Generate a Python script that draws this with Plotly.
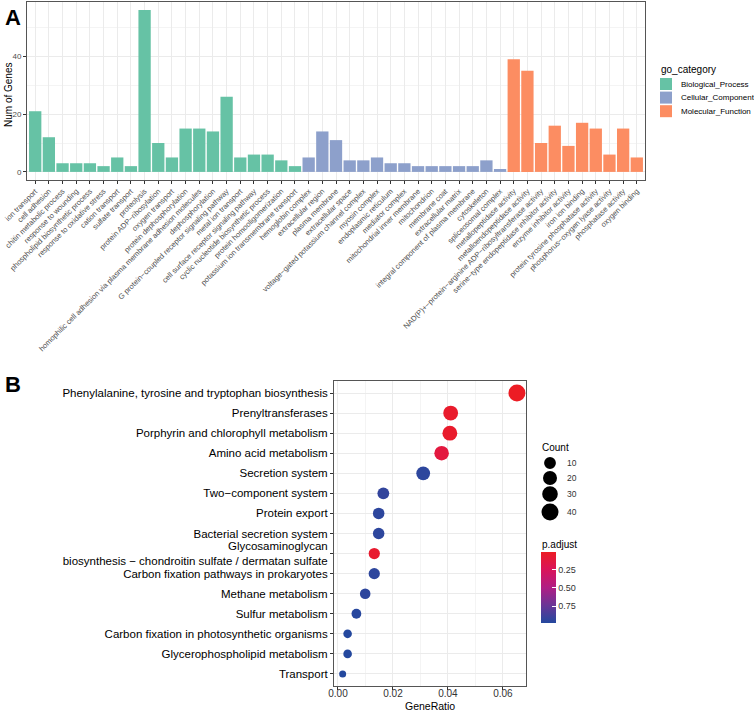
import math
import plotly.graph_objects as go

# ---------------- Panel A data (GO enrichment bar chart) ----------------
bp_terms = ["ion transport", "cell adhesion", "chitin metabolic process", "response to wounding",
            "phospholipid biosynthetic process", "response to oxidative stress", "cation transport",
            "sulfate transport", "proteolysis", "protein ADP−ribosylation", "oxygen transport",
            "protein dephosphorylation",
            "homophilic cell adhesion via plasma membrane adhesion molecules",
            "dephosphorylation", "G protein−coupled receptor signaling pathway", "metal ion transport",
            "cell surface receptor signaling pathway", "cyclic nucleotide biosynthetic process",
            "protein homooligomerization", "potassium ion transmembrane transport"]
bp_counts = [21, 12, 3, 3, 3, 2, 5, 2, 56, 10, 5, 15, 15, 14, 26, 5, 6, 6, 4, 2]

cc_terms = ["hemoglobin complex", "extracellular region", "plasma membrane", "extracellular space",
            "voltage−gated potassium channel complex", "myosin complex", "endoplasmic reticulum",
            "mediator complex", "mitochondrial inner membrane", "mitochondrion", "membrane coat",
            "extracellular matrix", "integral component of plasma membrane", "cytoskeleton",
            "spliceosomal complex"]
cc_counts = [5, 14, 11, 4, 4, 5, 3, 3, 2, 2, 2, 2, 2, 4, 1]

mf_terms = ["metallopeptidase activity", "metalloendopeptidase activity",
            "NAD(P)+−protein−arginine ADP−ribosyltransferase activity",
            "serine−type endopeptidase inhibitor activity", "enzyme inhibitor activity",
            "iron ion binding", "protein tyrosine phosphatase activity",
            "phosphorus−oxygen lyase activity", "phosphatase activity", "oxygen binding"]
mf_counts = [39, 35, 10, 16, 9, 17, 15, 6, 15, 5]

go_names = ["Biological_Process", "Cellular_Component", "Molecular_Function"]
go_colors = ["#66C2A5", "#8DA0CB", "#FC8D62"]
a_yticks = [0, 20, 40]

# ---------------- Panel B data (KEGG dot plot) ----------------
kegg_terms = ["Phenylalanine, tyrosine and tryptophan biosynthesis", "Prenyltransferases",
              "Porphyrin and chlorophyll metabolism", "Amino acid metabolism", "Secretion system",
              "Two−component system", "Protein export", "Bacterial secretion system",
              "Glycosaminoglycan<br>biosynthesis − chondroitin sulfate / dermatan sulfate",
              "Carbon fixation pathways in prokaryotes", "Methane metabolism", "Sulfur metabolism",
              "Carbon fixation in photosynthetic organisms", "Glycerophospholipid metabolism",
              "Transport"]
kegg_ratio = [0.0651, 0.0410, 0.0407, 0.0377, 0.0310, 0.0165, 0.0148, 0.0148, 0.0132, 0.0132,
              0.0099, 0.0067, 0.0035, 0.0035, 0.0017]
kegg_count = [40, 25, 25, 23, 19, 10, 9, 9, 8, 8, 6, 4, 2, 2, 1]
kegg_padj = [0.01, 0.045, 0.045, 0.13, 0.95, 0.93, 0.95, 0.95, 0.06, 0.95, 0.95, 0.97, 0.98, 0.98, 0.98]
count_legend = [10, 20, 30, 40]
b_xticks = [0.0, 0.02, 0.04, 0.06]
padj_ticks = [0.25, 0.50, 0.75]

W, H = 754, 711
FONT = "Liberation Sans, Arial, sans-serif"


def fx(p):
    return p / W


def fy(p):
    return 1 - p / H


cmin_c, cmax_c = min(kegg_count), max(kegg_count)
DMIN, DMAX = 7, 17


def dsize(c):
    t = (c - cmin_c) / (cmax_c - cmin_c)
    return DMIN + (DMAX - DMIN) * math.sqrt(max(t, 0))


all_terms = bp_terms + cc_terms + mf_terms

fig = go.Figure()
for name, col, terms, counts in zip(go_names, go_colors,
                                    [bp_terms, cc_terms, mf_terms],
                                    [bp_counts, cc_counts, mf_counts]):
    fig.add_trace(go.Bar(x=terms, y=counts, name=name, marker=dict(color=col, line=dict(width=0)),
                         width=0.9, xaxis="x", yaxis="y", showlegend=False))

# KEGG dots
neg_padj = [-p for p in kegg_padj]
fig.add_trace(go.Scatter(
    x=kegg_ratio, y=kegg_terms, mode="markers", xaxis="x2", yaxis="y2", showlegend=False,
    marker=dict(size=[dsize(c) for c in kegg_count], sizemode="diameter", opacity=1,
                color=neg_padj, cmin=-max(kegg_padj), cmax=-min(kegg_padj),
                colorscale=[[0, "#24489E"], [0.25, "#6A3596"], [0.5, "#B01E84"],
                            [0.75, "#D9145A"], [1, "#EC1C24"]],
                line=dict(width=0),
                colorbar=dict(x=fx(541), xanchor="left", y=fy(552), yanchor="top",
                              len=71, lenmode="pixels", thickness=15, outlinewidth=0,
                              ypad=0, xpad=0,
                              tickvals=[-t for t in padj_ticks],
                              ticktext=["%.2f" % t for t in padj_ticks],
                              ticks="inside", tickcolor="white", ticklen=4,
                              tickfont=dict(size=9, color="#333333", family=FONT)))))

shapes = []
annotations = []

# Legend for panel A (drawn manually for ggplot-like compact spacing)
annotations.append(dict(text="go_category", x=fx(659), y=fy(70), xref="paper", yref="paper",
                        xanchor="left", yanchor="middle", showarrow=False,
                        font=dict(size=10, family=FONT, color="black")))
for i, (name, col) in enumerate(zip(go_names, go_colors)):
    cy = 84 + i * 13.6
    shapes.append(dict(type="rect", xref="paper", yref="paper",
                       x0=fx(660), x1=fx(672), y0=fy(cy - 6), y1=fy(cy + 6),
                       fillcolor=col, line=dict(width=0)))
    annotations.append(dict(text=name, x=fx(679), y=fy(cy), xref="paper", yref="paper",
                            xanchor="left", yanchor="middle", showarrow=False,
                            font=dict(size=8, family=FONT, color="black")))

# Count size legend for panel B
annotations.append(dict(text="Count", x=fx(540), y=fy(447), xref="paper", yref="paper",
                        xanchor="left", yanchor="middle", showarrow=False,
                        font=dict(size=10, family=FONT, color="black")))
legend_y = [463, 478, 494, 512]
for c, cy in zip(count_legend, legend_y):
    r = dsize(c) / 2
    shapes.append(dict(type="circle", xref="paper", yref="paper",
                       x0=fx(550 - r), x1=fx(550 + r), y0=fy(cy + r), y1=fy(cy - r),
                       fillcolor="black", line=dict(width=0)))
    annotations.append(dict(text=str(c), x=fx(565), y=fy(cy), xref="paper", yref="paper",
                            xanchor="left", yanchor="middle", showarrow=False,
                            font=dict(size=8.5, family=FONT, color="#333333")))

annotations.append(dict(text="p.adjust", x=fx(540), y=fy(544), xref="paper", yref="paper",
                        xanchor="left", yanchor="middle", showarrow=False,
                        font=dict(size=10, family=FONT, color="black")))
annotations.append(dict(text="GeneRatio", x=fx(430), y=fy(706), xref="paper", yref="paper",
                        xanchor="center", yanchor="middle", showarrow=False,
                        font=dict(size=10.5, family=FONT, color="black")))
annotations.append(dict(text="Num of Genes", x=fx(9), y=fy(95), xref="paper", yref="paper",
                        xanchor="center", yanchor="middle", showarrow=False, textangle=-90,
                        font=dict(size=10, family=FONT, color="black")))
annotations.append(dict(text="<b>A</b>", x=fx(3), y=fy(3), xref="paper", yref="paper",
                        xanchor="left", yanchor="top", showarrow=False,
                        font=dict(size=22, family=FONT, color="black")))
annotations.append(dict(text="<b>B</b>", x=fx(3), y=fy(370), xref="paper", yref="paper",
                        xanchor="left", yanchor="top", showarrow=False,
                        font=dict(size=22, family=FONT, color="black")))

grid = "#EBEBEB"
minor_grid = "#F4F4F4"
border = "#555555"

fig.update_layout(
    width=W, height=H, margin=dict(l=0, r=0, t=0, b=0, autoexpand=False),
    paper_bgcolor="white", plot_bgcolor="white",
    font=dict(family=FONT, color="black"),
    barmode="overlay", showlegend=False,
    xaxis=dict(domain=[fx(27), fx(645)], anchor="y", type="category", automargin=False,
               categoryorder="array", categoryarray=all_terms, range=[-0.6, len(all_terms) - 0.4],
               tickangle=-45, tickfont=dict(size=7.5, color="#4D4D4D", family=FONT),
               showgrid=True, gridcolor=grid, gridwidth=1,
               ticks="outside", ticklen=3, tickcolor="#333333",
               showline=True, mirror=True, linecolor=border, linewidth=1, zeroline=False),
    yaxis=dict(domain=[fy(180), fy(2)], anchor="x", range=[-2.8, 58.8], automargin=False,
               tickvals=a_yticks, tickfont=dict(size=8, color="#4D4D4D", family=FONT),
               showgrid=True, gridcolor=grid, gridwidth=1,
               minor=dict(dtick=10, showgrid=True, gridcolor=minor_grid, gridwidth=1),
               ticks="outside", ticklen=3, tickcolor="#333333",
               showline=True, mirror=True, linecolor=border, linewidth=1, zeroline=False),
    xaxis2=dict(domain=[fx(334), fx(526)], anchor="y2", range=[-0.00145, 0.0684], automargin=False,
                tickvals=b_xticks, ticktext=["%.2f" % t for t in b_xticks],
                tickfont=dict(size=10, color="#333333", family=FONT),
                ticklabelstandoff=-5,
                showgrid=True, gridcolor=grid, gridwidth=1,
                minor=dict(dtick=0.01, tick0=0, showgrid=True, gridcolor=minor_grid, gridwidth=1),
                ticks="outside", ticklen=3, tickcolor="#333333",
                showline=True, mirror=True, linecolor=border, linewidth=1, zeroline=False),
    yaxis2=dict(domain=[fy(686), fy(381)], anchor="x2", type="category", automargin=False,
                categoryorder="array", categoryarray=kegg_terms,
                range=[len(kegg_terms) - 0.4, -0.6],
                tickfont=dict(size=11.5, color="black", family=FONT),
                showgrid=True, gridcolor=grid, gridwidth=1,
                ticks="outside", ticklen=3, tickcolor="#333333",
                showline=True, mirror=True, linecolor=border, linewidth=1, zeroline=False),
    shapes=shapes,
    annotations=annotations,
)

fig.write_html("out.html", config={"displayModeBar": False},
               post_script="document.body.style.margin='0';document.body.style.overflow='hidden';")
